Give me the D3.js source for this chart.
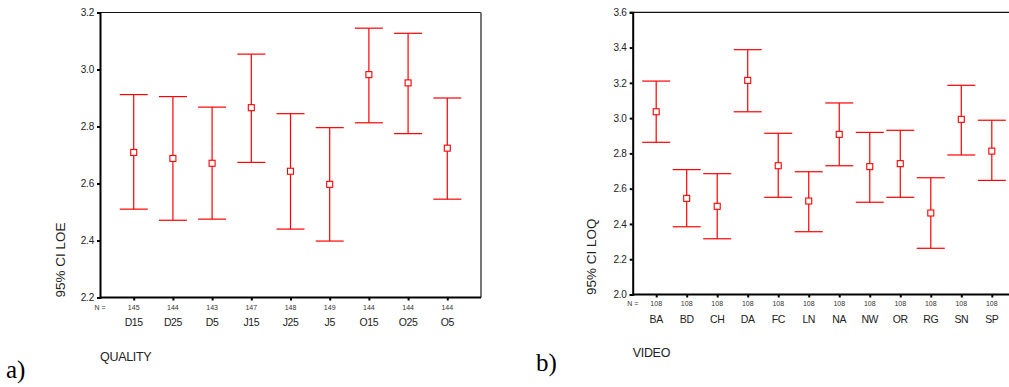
<!DOCTYPE html>
<html><head><meta charset="utf-8">
<script src="https://cdn.jsdelivr.net/npm/d3@7"></script>
<style>body{margin:0;background:#fff}svg{display:block}</style>
</head><body>
<svg id="c" width="1009" height="387" font-family="Liberation Sans, Arial, sans-serif"></svg>
<script>
// Panel a) QUALITY
const catsA = ["D15","D25","D5","J15","J25","J5","O15","O25","O5"];
const nA = [145,144,143,147,148,149,144,144,144];
const meanA = [2.709,2.688,2.671,2.866,2.643,2.597,2.982,2.953,2.724];
const lowA  = [2.510,2.471,2.475,2.674,2.440,2.398,2.813,2.775,2.545];
const highA = [2.912,2.905,2.868,3.054,2.845,2.796,3.145,3.127,2.900];
const ticksA = [2.2,2.4,2.6,2.8,3.0,3.2];
// Panel b) VIDEO
const catsB = ["BA","BD","CH","DA","FC","LN","NA","NW","OR","RG","SN","SP"];
const nB = [108,108,108,108,108,108,108,108,108,108,108,108];
const meanB = [3.036,2.545,2.500,3.214,2.730,2.530,2.908,2.725,2.742,2.462,2.993,2.813];
const lowB  = [2.863,2.384,2.316,3.036,2.551,2.356,2.730,2.523,2.551,2.262,2.791,2.647];
const highB = [3.210,2.708,2.685,3.388,2.914,2.696,3.086,2.919,2.931,2.662,3.186,2.988];
const ticksB = [2.0,2.2,2.4,2.6,2.8,3.0,3.2,3.4,3.6];

const svg = d3.select("#c");

function panel(o){
  const g = svg.append("g");
  const x = d3.scalePoint().domain(o.cats).range([o.x0, o.x1]).padding(o.pad);
  const y = d3.scaleLinear().domain(o.ydom).range([o.y1, o.y0]);
  g.append("line").attr("x1",o.x0).attr("x2",o.x1).attr("y1",o.y0).attr("y2",o.y0).attr("stroke","#111").attr("stroke-width",1.2);
  if (o.right) g.append("line").attr("x1",o.x1).attr("x2",o.x1).attr("y1",o.y0).attr("y2",o.y1).attr("stroke","#777").attr("stroke-width",2);
  const ya = d3.axisLeft(y).tickValues(o.ticks).tickFormat(d3.format(".1f")).tickSize(3).tickPadding(3);
  const yg = g.append("g").attr("transform",`translate(${o.x0},0)`).call(ya);
  yg.attr("font-family",null);
  yg.select(".domain").attr("stroke","#000").attr("stroke-width",2);
  yg.selectAll(".tick line").attr("stroke","#000").attr("stroke-width",2);
  yg.selectAll(".tick text").attr("font-size",10).attr("fill","#222").style("letter-spacing","-0.2px");
  const xa = d3.axisBottom(x).tickSize(3).tickFormat("");
  const xg = g.append("g").attr("transform",`translate(0,${o.y1})`).call(xa);
  xg.select(".domain").attr("stroke","#000").attr("stroke-width",2).attr("d",`M${o.x0},0H${o.x1}`);
  xg.selectAll(".tick line").attr("stroke","#000").attr("stroke-width",2);
  g.append("text").attr("x",o.x0).attr("y",o.nY).attr("text-anchor","middle").attr("dominant-baseline","middle")
    .attr("font-size",7).attr("fill","#333").text("N =");
  g.selectAll(".n").data(o.cats).enter().append("text").attr("x",d=>x(d)).attr("y",o.nY)
    .attr("text-anchor","middle").attr("dominant-baseline","middle").attr("font-size",7).attr("fill","#333")
    .text((d,i)=>o.n[i]);
  g.selectAll(".cl").data(o.cats).enter().append("text").attr("x",d=>x(d)).attr("y",o.cY)
    .attr("text-anchor","middle").attr("dominant-baseline","middle").attr("font-size",10.5).attr("fill","#222")
    .style("letter-spacing","-0.4px").text(d=>d);
  g.append("text").attr("x",o.x0).attr("y",o.tY).attr("dominant-baseline","middle").attr("font-size",12.5).attr("fill","#222")
    .style("letter-spacing","-0.3px").text(o.xtitle);
  g.append("text").attr("transform",`translate(${o.yTx},${o.yTy}) rotate(-90)`).attr("text-anchor","middle")
    .attr("dominant-baseline","middle").attr("font-size",13.5).attr("fill","#222").text(o.ytitle);
  g.append("text").attr("x",o.lx).attr("y",o.ly).attr("dominant-baseline","middle").attr("font-size",25)
    .attr("font-family","Liberation Serif, Times New Roman, serif").attr("fill","#000").text(o.letter);
  const hw = 14;
  const eb = g.selectAll(".eb").data(o.cats).enter().append("g");
  eb.append("line").attr("x1",d=>x(d)).attr("x2",d=>x(d)).attr("y1",(d,i)=>y(o.high[i])).attr("y2",(d,i)=>y(o.low[i]))
    .attr("stroke","#ff0000").attr("stroke-width",1.2);
  eb.append("line").attr("x1",d=>x(d)-hw).attr("x2",d=>x(d)+hw).attr("y1",(d,i)=>y(o.high[i])).attr("y2",(d,i)=>y(o.high[i]))
    .attr("stroke","#ff0000").attr("stroke-width",1.2);
  eb.append("line").attr("x1",d=>x(d)-hw).attr("x2",d=>x(d)+hw).attr("y1",(d,i)=>y(o.low[i])).attr("y2",(d,i)=>y(o.low[i]))
    .attr("stroke","#ff0000").attr("stroke-width",1.2);
  eb.append("rect").attr("x",d=>x(d)-3).attr("y",(d,i)=>y(o.mean[i])-3).attr("width",6).attr("height",6)
    .attr("fill","#fff").attr("stroke","#ff0000").attr("stroke-width",1.1);
}

panel({cats:catsA,n:nA,mean:meanA,low:lowA,high:highA,ticks:ticksA,ydom:[2.2,3.2],
  x0:100,x1:481,y0:12.5,y1:297.5,pad:0.86,right:true,nY:307.7,cY:323.5,tY:357.7,
  xtitle:"QUALITY",ytitle:"95% CI LOE",yTx:61.5,yTy:260,letter:"a)",lx:6,ly:372});
panel({cats:catsB,n:nB,mean:meanB,low:lowB,high:highB,ticks:ticksB,ydom:[2.0,3.6],
  x0:632.7,x1:1015.3,y0:12.3,y1:294.5,pad:0.77,right:false,nY:304.5,cY:320,tY:353.7,
  xtitle:"VIDEO",ytitle:"95% CI LOQ",yTx:592.7,yTy:256.7,letter:"b)",lx:536,ly:365});
</script>
</body></html>
